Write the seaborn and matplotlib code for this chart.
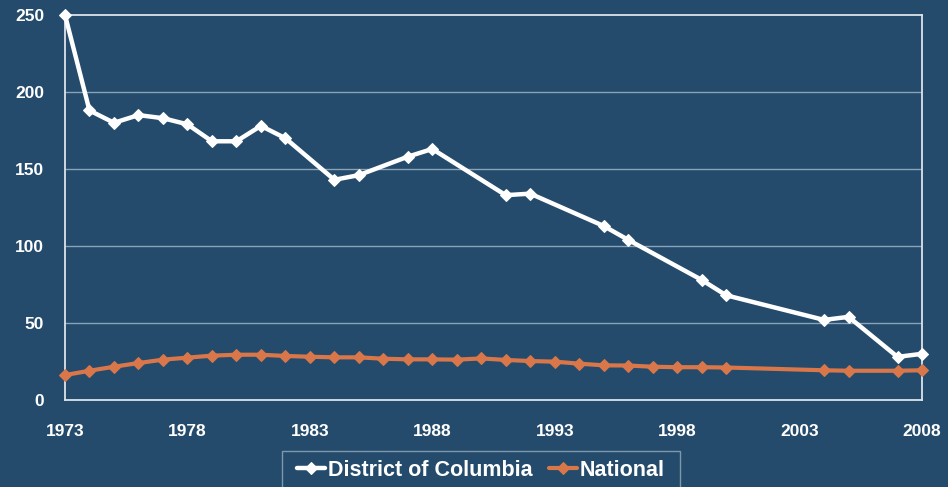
import matplotlib
matplotlib.use("Agg")
import matplotlib.pyplot as plt
from matplotlib.patches import Rectangle
import seaborn as sns
import pandas as pd

# Data
dc_years = [1973, 1974, 1975, 1976, 1977, 1978, 1979, 1980, 1981, 1982,
            1984, 1985, 1987, 1988, 1991, 1992, 1995, 1996, 1999, 2000,
            2004, 2005, 2007, 2008]
dc_values = [250, 188, 180, 185, 183, 179, 168, 168, 178, 170,
             143, 146, 158, 163, 133, 134, 113, 104, 78, 68,
             52, 54, 28, 30]

nat_years = [1973, 1974, 1975, 1976, 1977, 1978, 1979, 1980, 1981, 1982,
             1983, 1984, 1985, 1986, 1987, 1988, 1989, 1990, 1991, 1992,
             1993, 1994, 1995, 1996, 1997, 1998, 1999, 2000, 2004, 2005,
             2007, 2008]
nat_values = [16.2, 19.0, 21.6, 24.0, 26.2, 27.5, 28.8, 29.4, 29.4, 28.6,
              28.1, 27.7, 27.7, 26.8, 26.4, 26.4, 26.2, 27.0, 26.0, 25.3,
              24.9, 23.6, 22.5, 22.4, 21.6, 21.3, 21.3, 21.1, 19.3, 19.0,
              19.0, 19.3]

x_ticks = [1973, 1978, 1983, 1988, 1993, 1998, 2003, 2008]
y_ticks = [0, 50, 100, 150, 200, 250]

BG = "#244B6B"
ORANGE = "#D9774A"
SPINE = "#DCE3EA"

sns.set_style("white")
plt.rcParams['font.family'] = ['Liberation Sans', 'DejaVu Sans']

W, H = 948, 487
fig = plt.figure(figsize=(W/100, H/100), dpi=100, facecolor=BG)
ax = fig.add_axes([65/W, 1-400/H, (922-65)/W, (400-15)/H])
ax.set_facecolor(BG)

dc_df = pd.DataFrame({"year": dc_years, "value": dc_values})
nat_df = pd.DataFrame({"year": nat_years, "value": nat_values})

sns.lineplot(data=dc_df, x="year", y="value", ax=ax, color="white",
             linewidth=3.2, marker="D", markersize=6.5, markeredgecolor="white",
             label="District of Columbia", zorder=4, clip_on=False)
sns.lineplot(data=nat_df, x="year", y="value", ax=ax, color=ORANGE,
             linewidth=3.0, marker="D", markersize=6.5, markeredgecolor=ORANGE,
             label="National", zorder=3, clip_on=False)

ax.set_xlim(1973, 2008)
ax.set_ylim(0, 250)
ax.set_xticks(x_ticks)
ax.set_yticks(y_ticks)
ax.set_xlabel("")
ax.set_ylabel("")

for g in [50, 100, 150, 200]:
    ax.axhline(g, color="#8AA3B8", linewidth=1.0, zorder=1)

for s in ax.spines.values():
    s.set_visible(True)
    s.set_color(SPINE)
    s.set_linewidth(1.3)

ax.tick_params(axis="both", length=0, colors="white", labelsize=12.5)
ax.tick_params(axis="x", pad=17)
ax.tick_params(axis="y", pad=15)
for lab in ax.get_xticklabels() + ax.get_yticklabels():
    lab.set_fontweight("bold")
    lab.set_color("white")

ax.get_legend().remove()
handles, labels = ax.get_legend_handles_labels()
leg = fig.legend(handles, labels, loc="upper center", ncol=2,
                 bbox_to_anchor=(481/W, 1-449/H),
                 bbox_transform=fig.transFigure,
                 frameon=False, handlelength=1.3,
                 handletextpad=0.1, columnspacing=0.8, borderpad=0.0,
                 prop={"weight": "bold", "size": 15.5})
for t in leg.get_texts():
    t.set_color("white")

# legend frame box
fig.patches.append(Rectangle((282/W, 1-492/H), (680-282)/W, (492-451)/H,
                             transform=fig.transFigure, facecolor="none",
                             edgecolor="#7F98AE", linewidth=1.0))

fig.savefig("out.png", dpi=100, facecolor=BG)
